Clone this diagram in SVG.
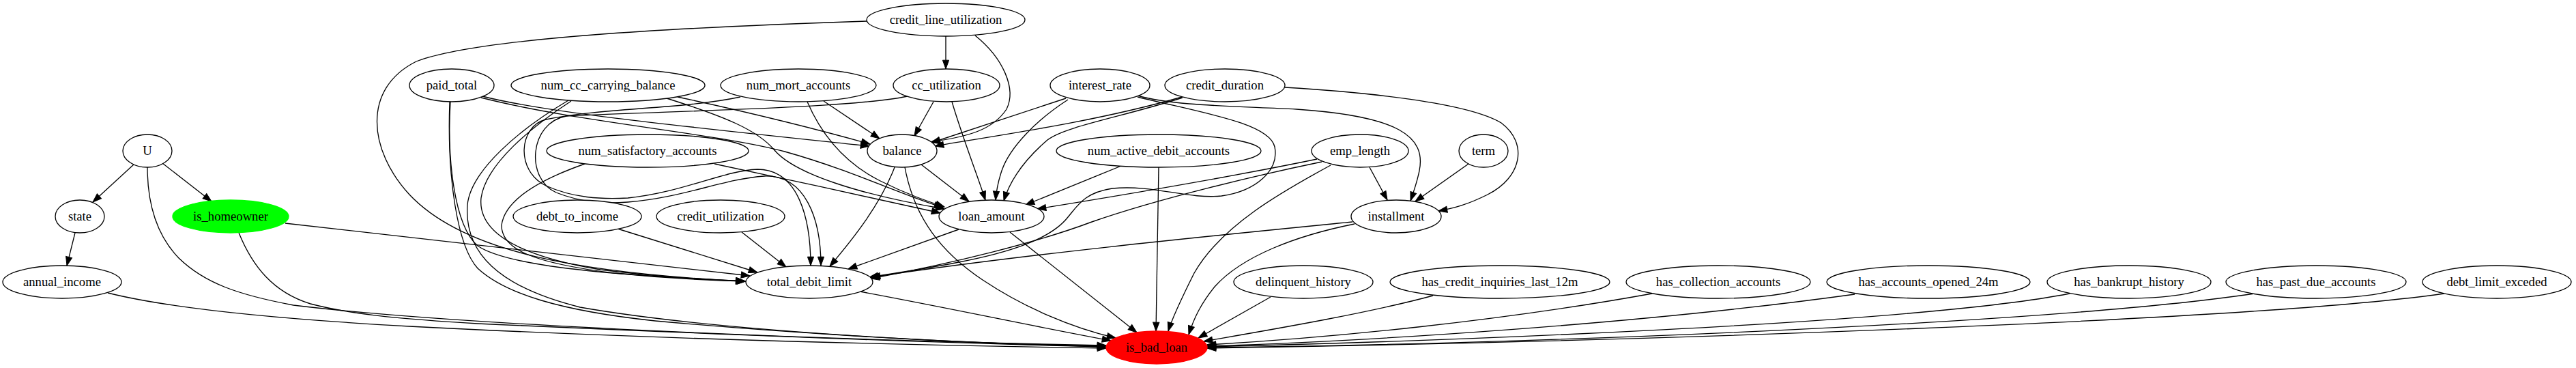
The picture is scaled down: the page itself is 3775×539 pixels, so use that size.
<svg xmlns="http://www.w3.org/2000/svg" width="3775" height="539" viewBox="0 0 3775 539">
<style>
.node ellipse{fill:#fff;stroke:#000;stroke-width:1.33}
.node text{font-family:"Liberation Serif","Times New Roman",serif;font-size:18.67px;text-anchor:middle;fill:#000}
.edges path{fill:none;stroke:#000;stroke-width:1.33;marker-end:url(#ah)}
</style>
<defs>
<marker id="ah" viewBox="0 0 14 10" refX="13.3" refY="5" markerWidth="14" markerHeight="10" markerUnits="userSpaceOnUse" orient="auto" overflow="visible">
<path d="M0.5,0.4 L13.3,5 L0.5,9.6 z" fill="#000" stroke="#000" stroke-width="1"/>
</marker>
</defs>
<rect width="3775" height="539" fill="#fff"/>
<g id="edges" class="edges">
<path d="M197,240 L136,296"/>
<path d="M238,239 L310,295"/>
<path d="M216,245 C216,300 230,345 262,378 C300,415 350,432 430,447 C700,480 1300,500 1621,506"/>
<path d="M110,341 L98,389"/>
<path d="M158,429 C250,452 420,468 600,478 C950,496 1300,505 1621,510"/>
<path d="M418,327 L1099,404"/>
<path d="M350,341 C370,390 400,428 455,445 C520,462 600,468 700,474 C1100,492 1400,503 1621,508"/>
<path d="M707,141 C800,165 1000,185 1274,214"/>
<path d="M705,143 C850,180 1050,195 1150,222 C1250,250 1320,285 1382,304"/>
<path d="M660,149 C655,230 665,330 700,360 C750,395 950,405 1092,412"/>
<path d="M659,149 C655,260 670,360 700,393 C740,430 820,455 960,470 C1200,492 1450,504 1621,508"/>
<path d="M993,142 C1100,165 1200,190 1275,211"/>
<path d="M977,144 C1060,170 1110,190 1135,220 C1165,255 1260,285 1384,306"/>
<path d="M837,148 C780,185 712,240 705,290 C700,340 760,375 880,395 C960,405 1040,410 1092,412"/>
<path d="M833,147 C760,190 690,250 685,300 C680,370 730,420 850,450 C1050,485 1400,503 1621,507"/>
<path d="M1047,240 C1150,262 1280,290 1378,312"/>
<path d="M857,240 C800,260 740,290 735,330 C735,365 780,385 900,400 C980,408 1050,411 1093,412"/>
<path d="M905,335 L1110,399"/>
<path d="M1087,340 L1152,391"/>
<path d="M1386,53 L1386,101"/>
<path d="M1429,52 C1470,85 1490,130 1475,160 C1455,190 1420,200 1364,208"/>
<path d="M1270,31 C1000,40 700,55 610,90 C530,130 540,220 600,285 C680,370 850,400 1091,412"/>
<path d="M1207,148 L1289,203"/>
<path d="M1183,149 C1205,200 1240,240 1290,265 C1330,285 1360,295 1384,303"/>
<path d="M1085,142 C1000,160 880,158 800,175 C760,185 755,250 800,272 C840,290 880,292 920,290 C1000,282 1060,250 1110,248 C1170,248 1188,320 1188,389"/>
<path d="M1368,149 L1340,199"/>
<path d="M1395,149 C1410,200 1430,250 1444,293"/>
<path d="M1330,141 C1250,158 1000,162 830,170 C775,180 770,262 815,282 C855,298 890,298 920,296 C1000,290 1060,262 1120,258 C1180,256 1203,320 1203,389"/>
<path d="M1562,144 L1365,209"/>
<path d="M1565,146 C1520,175 1480,215 1468,250 C1462,268 1460,280 1459,293"/>
<path d="M1667,142 C1760,165 1860,180 1868,215 C1875,250 1840,280 1790,287 C1740,292 1690,270 1630,276 C1590,282 1580,300 1565,318 C1540,350 1480,370 1400,385 C1350,395 1310,400 1274,406"/>
<path d="M1667,140 C1720,155 1800,155 1900,160 C2050,170 2090,200 2080,250 C2077,265 2072,280 2067,294"/>
<path d="M1732,142 C1600,180 1450,200 1370,214"/>
<path d="M1733,143 C1650,170 1560,185 1535,205 C1500,235 1480,265 1471,294"/>
<path d="M1883,128 C2000,135 2150,150 2200,180 C2240,210 2230,260 2180,285 C2150,300 2130,305 2108,309"/>
<path d="M1350,241 L1420,295"/>
<path d="M1311,245 C1290,300 1250,350 1216,390"/>
<path d="M1326,245 C1340,320 1380,370 1440,410 C1500,450 1570,480 1635,495"/>
<path d="M1643,243 L1503,300"/>
<path d="M1698,245 L1694,485"/>
<path d="M1930,233 C1800,260 1650,285 1520,306"/>
<path d="M1937,237 C1850,255 1700,290 1600,325 C1520,355 1400,385 1276,408"/>
<path d="M1950,242 C1880,280 1790,330 1750,400 C1730,440 1718,465 1712,485"/>
<path d="M2007,245 L2033,293"/>
<path d="M2152,240 L2074,295"/>
<path d="M1982,325 C1800,343 1500,372 1277,406"/>
<path d="M1985,328 C1900,345 1820,375 1780,420 C1760,445 1750,465 1742,490"/>
<path d="M1405,336 L1243,394"/>
<path d="M1480,340 L1666,487"/>
<path d="M1260,427 C1400,453 1500,475 1628,499"/>
<path d="M1862,435 L1756,495"/>
<path d="M2100,433 C2000,460 1850,485 1764,500"/>
<path d="M2421,430 C2200,470 1950,495 1769,505"/>
<path d="M2718,431 C2400,475 2000,500 1769,507"/>
<path d="M3033,430 C2800,475 2100,500 1769,508"/>
<path d="M3304,430 C3000,475 2200,505 1769,509"/>
<path d="M3582,430 C3300,470 2400,500 1769,510"/>
</g>
<g id="U" class="node"><ellipse cx="216" cy="221" rx="36" ry="24"/><text x="216" y="227">U</text></g>
<g id="state" class="node"><ellipse cx="117" cy="317" rx="36" ry="24"/><text x="117" y="323">state</text></g>
<g id="is_homeowner" class="node"><ellipse cx="338" cy="317" rx="85" ry="24" style="fill:#00ff00;stroke:#00ff00"/><text x="338" y="323">is_homeowner</text></g>
<g id="annual_income" class="node"><ellipse cx="91" cy="413" rx="87" ry="24"/><text x="91" y="419">annual_income</text></g>
<g id="paid_total" class="node"><ellipse cx="662" cy="125" rx="62" ry="24"/><text x="662" y="131">paid_total</text></g>
<g id="num_cc_carrying_balance" class="node"><ellipse cx="891" cy="125" rx="142" ry="24"/><text x="891" y="131">num_cc_carrying_balance</text></g>
<g id="num_satisfactory_accounts" class="node"><ellipse cx="949" cy="221" rx="148" ry="24"/><text x="949" y="227">num_satisfactory_accounts</text></g>
<g id="debt_to_income" class="node"><ellipse cx="846" cy="317" rx="94" ry="24"/><text x="846" y="323">debt_to_income</text></g>
<g id="credit_line_utilization" class="node"><ellipse cx="1386" cy="29" rx="116" ry="24"/><text x="1386" y="35">credit_line_utilization</text></g>
<g id="num_mort_accounts" class="node"><ellipse cx="1170" cy="125" rx="114" ry="24"/><text x="1170" y="131">num_mort_accounts</text></g>
<g id="cc_utilization" class="node"><ellipse cx="1387" cy="125" rx="78" ry="24"/><text x="1387" y="131">cc_utilization</text></g>
<g id="interest_rate" class="node"><ellipse cx="1612" cy="125" rx="73" ry="24"/><text x="1612" y="131">interest_rate</text></g>
<g id="credit_duration" class="node"><ellipse cx="1795" cy="125" rx="88" ry="24"/><text x="1795" y="131">credit_duration</text></g>
<g id="balance" class="node"><ellipse cx="1322" cy="221" rx="51" ry="24"/><text x="1322" y="227">balance</text></g>
<g id="num_active_debit_accounts" class="node"><ellipse cx="1698" cy="221" rx="150" ry="24"/><text x="1698" y="227">num_active_debit_accounts</text></g>
<g id="loan_amount" class="node"><ellipse cx="1453" cy="317" rx="77" ry="24"/><text x="1453" y="323">loan_amount</text></g>
<g id="credit_utilization" class="node"><ellipse cx="1056" cy="317" rx="94" ry="24"/><text x="1056" y="323">credit_utilization</text></g>
<g id="total_debit_limit" class="node"><ellipse cx="1186" cy="413" rx="93" ry="24"/><text x="1186" y="419">total_debit_limit</text></g>
<g id="is_bad_loan" class="node"><ellipse cx="1695" cy="509" rx="74" ry="24" style="fill:#ff0000;stroke:#ff0000"/><text x="1695" y="515">is_bad_loan</text></g>
<g id="delinquent_history" class="node"><ellipse cx="1910" cy="413" rx="102" ry="24"/><text x="1910" y="419">delinquent_history</text></g>
<g id="emp_length" class="node"><ellipse cx="1993" cy="221" rx="71" ry="24"/><text x="1993" y="227">emp_length</text></g>
<g id="term" class="node"><ellipse cx="2174" cy="221" rx="36" ry="24"/><text x="2174" y="227">term</text></g>
<g id="installment" class="node"><ellipse cx="2046" cy="317" rx="66" ry="24"/><text x="2046" y="323">installment</text></g>
<g id="has_credit_inquiries_last_12m" class="node"><ellipse cx="2198" cy="413" rx="161" ry="24"/><text x="2198" y="419">has_credit_inquiries_last_12m</text></g>
<g id="has_collection_accounts" class="node"><ellipse cx="2518" cy="413" rx="135" ry="24"/><text x="2518" y="419">has_collection_accounts</text></g>
<g id="has_accounts_opened_24m" class="node"><ellipse cx="2826" cy="413" rx="149" ry="24"/><text x="2826" y="419">has_accounts_opened_24m</text></g>
<g id="has_bankrupt_history" class="node"><ellipse cx="3120" cy="413" rx="120" ry="24"/><text x="3120" y="419">has_bankrupt_history</text></g>
<g id="has_past_due_accounts" class="node"><ellipse cx="3394" cy="413" rx="132" ry="24"/><text x="3394" y="419">has_past_due_accounts</text></g>
<g id="debt_limit_exceded" class="node"><ellipse cx="3659" cy="413" rx="109" ry="24"/><text x="3659" y="419">debt_limit_exceded</text></g>
</svg>
